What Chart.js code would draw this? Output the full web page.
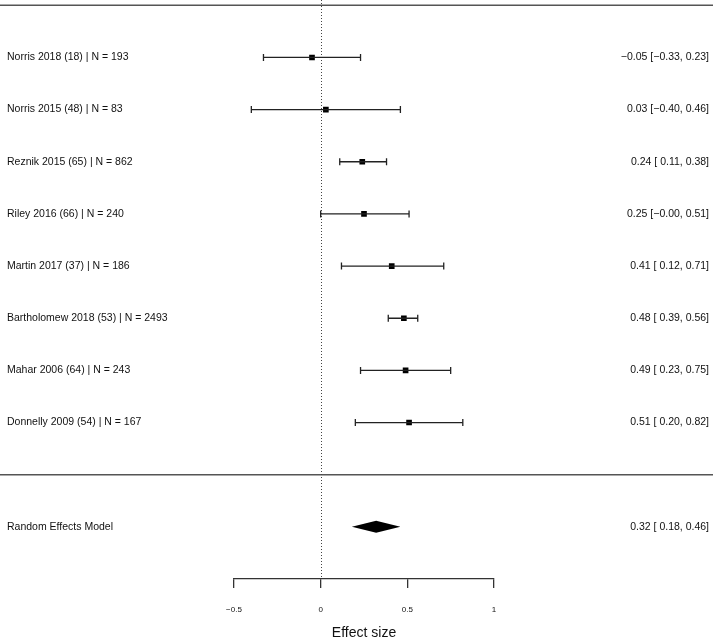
<!DOCTYPE html>
<html>
<head>
<meta charset="utf-8">
<title>Forest plot</title>
<script src="https://cdn.jsdelivr.net/npm/chart.js@4.4.1/dist/chart.umd.min.js"></script>
<style>
  html, body { margin: 0; padding: 0; background: #fff; }
  #wrap { width: 713px; height: 642px; }
</style>
</head>
<body>
<div id="wrap"><canvas id="forest" width="713" height="642"></canvas></div>
<script>
/* ==========================================
   Forest plot — study effects + pooled model
   ========================================== */

const studyLabels = [
  'Norris 2018 (18) | N = 193',
  'Norris 2015 (48) | N = 83',
  'Reznik 2015 (65) | N = 862',
  'Riley 2016 (66) | N = 240',
  'Martin 2017 (37) | N = 186',
  'Bartholomew 2018 (53) | N = 2493',
  'Mahar 2006 (64) | N = 243',
  'Donnelly 2009 (54) | N = 167'
];
const estimates = [-0.05, 0.03, 0.24, 0.25, 0.41, 0.48, 0.49, 0.51];
const lowerCI   = [-0.33, -0.40, 0.11, -0.00, 0.12, 0.39, 0.23, 0.20];
const upperCI   = [0.23, 0.46, 0.38, 0.51, 0.71, 0.56, 0.75, 0.82];
const ciLabels = [
  '\u22120.05 [\u22120.33, 0.23]',
  '0.03 [\u22120.40, 0.46]',
  '0.24 [ 0.11, 0.38]',
  '0.25 [\u22120.00, 0.51]',
  '0.41 [ 0.12, 0.71]',
  '0.48 [ 0.39, 0.56]',
  '0.49 [ 0.23, 0.75]',
  '0.51 [ 0.20, 0.82]'
];

const poolLabel = 'Random Effects Model';
const poolEstimate = 0.32;
const poolLower = 0.18;
const poolUpper = 0.46;
const poolCiLabel = '0.32 [ 0.18, 0.46]';

const xTicks = [-0.5, 0, 0.5, 1];

// row positions on the y scale (0 = top rule, 9 = separator)
const rows = studyLabels.map((_, i) => i + 1);
const poolRow = 10;
const ruleRows = [0, 9];

const FONT = "'Liberation Sans', Arial, Helvetica, sans-serif";
const INK = '#111';

// rules, null line and the pooled diamond
const forestDecor = {
  id: 'forestDecor',
  beforeDatasetsDraw(chart) {
    const { ctx, chartArea, scales } = chart;
    ctx.save();
    ctx.strokeStyle = '#555';
    ctx.lineWidth = 1.5;
    ruleRows.forEach(r => {
      const y = scales.y.getPixelForValue(r);
      ctx.beginPath();
      ctx.moveTo(0, y);
      ctx.lineTo(chart.width, y);
      ctx.stroke();
    });
    // dotted line at zero effect
    const x0 = Math.round(scales.x.getPixelForValue(0)) + 0.5;
    ctx.strokeStyle = '#444';
    ctx.lineWidth = 1;
    ctx.setLineDash([1, 2]);
    ctx.beginPath();
    ctx.moveTo(x0, 0);
    ctx.lineTo(x0, chartArea.bottom);
    ctx.stroke();
    ctx.restore();
  },
  afterDatasetsDraw(chart) {
    const { ctx, scales } = chart;
    const y = scales.y.getPixelForValue(poolRow);
    const half = 6;
    ctx.save();
    ctx.fillStyle = '#000';
    ctx.beginPath();
    ctx.moveTo(scales.x.getPixelForValue(poolLower), y);
    ctx.lineTo(scales.x.getPixelForValue(poolEstimate), y - half);
    ctx.lineTo(scales.x.getPixelForValue(poolUpper), y);
    ctx.lineTo(scales.x.getPixelForValue(poolEstimate), y + half);
    ctx.closePath();
    ctx.fill();
    ctx.restore();
  }
};

const ciDatasets = studyLabels.map((_, i) => ({
  data: [{ x: lowerCI[i], y: rows[i] }, { x: upperCI[i], y: rows[i] }],
  showLine: true,
  borderColor: '#222',
  borderWidth: 1.3,
  pointStyle: 'line',
  rotation: 90,
  pointRadius: 3.5,
  pointBorderWidth: 1.3,
  pointBorderColor: '#222',
  pointBackgroundColor: '#222'
}));

const pointDataset = {
  data: estimates.map((e, i) => ({ x: e, y: rows[i] })),
  pointStyle: 'rect',
  pointRadius: 4,
  pointBorderWidth: 0,
  pointBackgroundColor: '#000',
  pointBorderColor: '#000'
};

function rowScale(position, labelFor, width) {
  return {
    type: 'linear',
    position,
    reverse: true,
    min: 0,
    max: 11,
    afterBuildTicks: s => { s.ticks = [...rows, poolRow].map(v => ({ value: v })); },
    afterFit: s => { s.width = width; s.paddingTop = 0; s.paddingBottom = 0; },
    ticks: {
      crossAlign: 'far',
      padding: 0,
      autoSkip: false,
      color: INK,
      font: { family: FONT, size: 10.5 },
      callback: v => labelFor(v)
    },
    grid: { display: false },
    border: { display: false }
  };
}

new Chart(document.getElementById('forest'), {
  type: 'scatter',
  data: { datasets: [...ciDatasets, pointDataset] },
  options: {
    responsive: false,
    animation: false,
    events: [],
    layout: { padding: { left: 7, right: 4, top: 1.5, bottom: 0 } },
    plugins: { legend: { display: false }, tooltip: { enabled: false } },
    scales: {
      x: {
        type: 'linear',
        position: 'bottom',
        min: -0.5,
        max: 1,
        afterBuildTicks: s => { s.ticks = xTicks.map(v => ({ value: v })); },
        afterFit: s => { s.height = 63; s.paddingLeft = 0; s.paddingRight = 0; },
        ticks: {
          padding: 17,
          color: INK,
          font: { family: FONT, size: 8 },
          callback: v => String(v).replace('-', '\u2212')
        },
        grid: { drawOnChartArea: false, drawTicks: true, tickLength: 9, color: '#333', lineWidth: 1.3 },
        border: { display: true, color: '#333', width: 1.3 },
        title: {
          display: true,
          text: 'Effect size',
          color: INK,
          font: { family: FONT, size: 14 },
          padding: { top: 0, bottom: 0 }
        }
      },
      y: rowScale('left', v => v === poolRow ? poolLabel : studyLabels[v - 1], 227),
      y2: rowScale('right', v => v === poolRow ? poolCiLabel : ciLabels[v - 1], 215)
    }
  },
  plugins: [forestDecor]
});
</script>
</body>
</html>
